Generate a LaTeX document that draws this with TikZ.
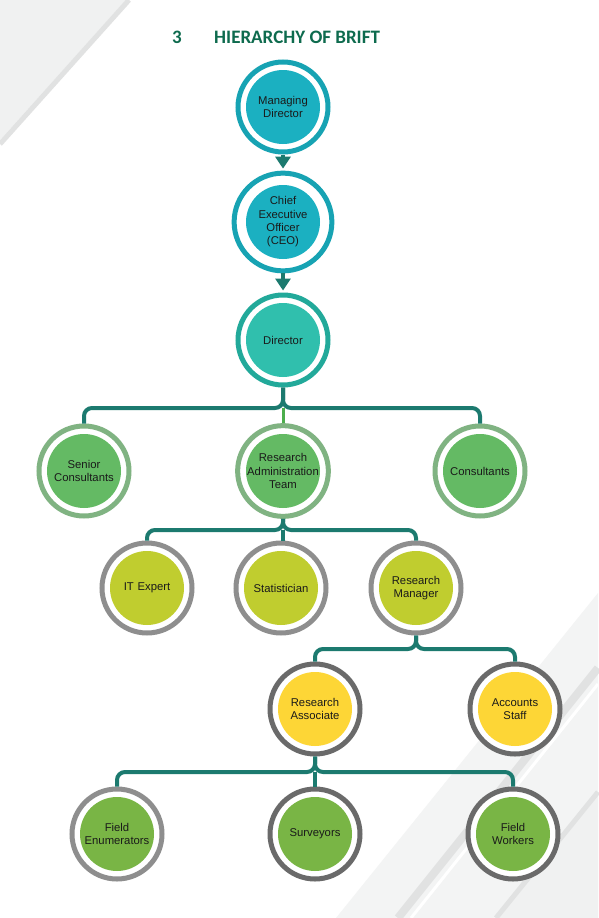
\documentclass[tikz,border=0pt]{standalone}
\usepackage{fontspec}
\setmainfont{Liberation Sans}
\newfontfamily\titlefont{Carlito}
\usetikzlibrary{arrows.meta}
\definecolor{txt}{HTML}{1A1A1A}
\definecolor{titlecol}{HTML}{0E6B4E}
\definecolor{conncol}{HTML}{1C7A6F}
\definecolor{greenln}{HTML}{4CAE4C}
\definecolor{tealring}{HTML}{17A3B3}
\definecolor{tealfill}{HTML}{1BB0C1}
\definecolor{dirring}{HTML}{22A99A}
\definecolor{dirfill}{HTML}{30BFAD}
\definecolor{gring}{HTML}{80B382}
\definecolor{gfill}{HTML}{64BA64}
\definecolor{lgray}{HTML}{8E8E8E}
\definecolor{dgray}{HTML}{6A6A6A}
\definecolor{ygfill}{HTML}{C0CD2F}
\definecolor{yfill}{HTML}{FDD636}
\definecolor{lfill}{HTML}{79B545}
\definecolor{bgA}{HTML}{F0F1F1}
\definecolor{bgB}{HTML}{F3F4F4}
\definecolor{bgC}{HTML}{E1E2E2}
\tikzset{
  org/.style 2 args={circle, minimum size=90pt, inner sep=0pt, line width=5pt,
    draw=#1, fill=white,
    path picture={\fill[#2] (path picture bounding box.center) circle (37pt);},
    text width=84pt, align=center, text=txt,
    font=\fontsize{11.3}{13.3}\selectfont},
  conn/.style={draw=conncol, line width=4pt, rounded corners=8pt},
  greenconn/.style={draw=greenln, line width=3pt},
  downarrow/.style={draw=conncol, fill=conncol, line width=3.5pt,
    -{Triangle[width=15pt,length=12pt]}, shorten >=2pt},
  titletext/.style={font=\titlefont\bfseries\fontsize{19}{22}\selectfont, text=titlecol, inner sep=0pt}
}
\begin{document}
\begin{tikzpicture}[x=1pt,y=-1pt]
\useasboundingbox (0,0) rectangle (598,918);
\fill[white] (0,0) rectangle (598,918);
% background decorations
\fill[bgA] (0,0) -- (126,0) -- (0,140) -- cycle;
\draw[bgC, line width=5pt] (129,0) -- (0,144);
\fill[bgB] (598,593) -- (598,918) -- (336,918) -- cycle;
\draw[bgC, line width=8pt] (598,668) -- (398,918);
\draw[white, line width=3pt] (598,684) -- (411,918);
\fill[bgA] (598,792) -- (598,918) -- (496,918) -- cycle;
\draw[bgC, line width=5pt] (598,792) -- (496,918);

% title
\node[titletext, anchor=west] (num) at (172,37) {3};
\node[titletext, anchor=west] (title) at (214,37) {HIERARCHY OF BRIFT};

% nodes
\node[org={tealring}{tealfill}] (md) at (283,107) {Managing\\Director};
\node[org={tealring}{tealfill}] (ceo) at (283,222) {Chief\\Executive\\Officer\\(CEO)};
\node[org={dirring}{dirfill}] (dir) at (283,340) {Director};

\node[org={gring}{gfill}] (sc) at (84,471) {Senior\\Consultants};
\node[org={gring}{gfill}] (rat) at (283,471) {Research\\Administration\\Team};
\node[org={gring}{gfill}] (con) at (480,471) {Consultants};

\node[org={lgray}{ygfill}] (it) at (147,588) {IT Expert};
\node[org={lgray}{ygfill}] (stat) at (281,588) {Statistician};
\node[org={lgray}{ygfill}] (rm) at (416,588) {Research\\Manager};

\node[org={dgray}{yfill}] (ra) at (315,709) {Research\\Associate};
\node[org={dgray}{yfill}] (as) at (515,709) {Accounts\\Staff};

\node[org={lgray}{lfill}] (fe) at (117,834) {Field\\Enumerators};
\node[org={dgray}{lfill}] (sv) at (315,834) {Surveyors};
\node[org={dgray}{lfill}] (fw) at (513,834) {Field\\Workers};

% arrows
\draw[downarrow] (md.south) -- (ceo.north);
\draw[downarrow] (ceo.south) -- (dir.north);

% junctions
\coordinate (j1) at (283,408);
\coordinate (j2) at (283,530);
\coordinate (j3) at (416,649);
\coordinate (j4) at (315,772);

\draw[greenconn] (j1) -- (rat.north);
\draw[conn] (dir.south) -- (j1) -| (sc.north);
\draw[conn] (dir.south) -- (j1) -| (con.north);

\draw[conn] (rat.south) -- (j2) -| (it.north);
\draw[conn] (rat.south) -- (j2) -| (rm.north);
\draw[conn] (j2) -- (j2 |- stat.north);

\draw[conn] (rm.south) -- (j3) -| (ra.north);
\draw[conn] (rm.south) -- (j3) -| (as.north);

\draw[conn] (ra.south) -- (j4) -| (fe.north);
\draw[conn] (ra.south) -- (j4) -| (fw.north);
\draw[conn] (j4) -- (sv.north);
\end{tikzpicture}
\end{document}
